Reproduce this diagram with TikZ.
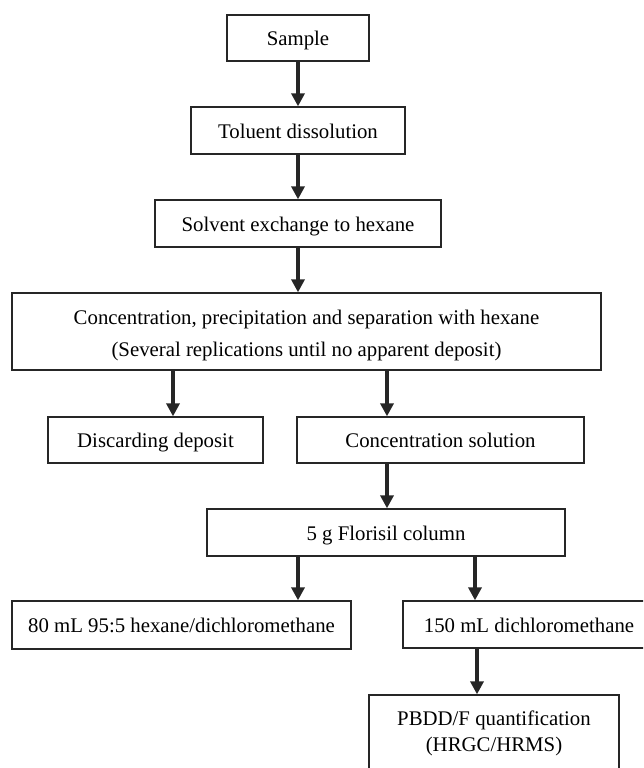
\documentclass[tikz,border=0pt]{standalone}
\usepackage{fontspec}
\setmainfont{Liberation Serif}
\usetikzlibrary{arrows.meta}
\begin{document}
\begin{tikzpicture}[x=1pt,y=-1pt,
  box/.style={draw=black!85, line width=1.3pt, inner sep=0pt, align=center,
    font=\fontsize{20.8}{32}\selectfont, text=black},
  one/.style={box, text height=15pt, text depth=0pt},
  arr/.style={draw=black!85, line width=3.3pt, -{Triangle[width=13pt,length=13pt]}}]
\useasboundingbox (0,0) rectangle (643,768);
\clip (0,0) rectangle (643,768);
\node[one, minimum width=142pt, minimum height=46pt] (sample) at (298,38) {Sample};
\node[one, minimum width=214pt, minimum height=47pt] (toluent) at (298,130.5) {Toluent dissolution};
\node[one, minimum width=286pt, minimum height=47pt] (solvent) at (298,223.5) {Solvent exchange to hexane};
\node[box, minimum width=589pt, minimum height=77pt, text height=49pt, text depth=0pt] (conc) at (306.5,331.5)
  {Concentration, precipitation and separation with hexane\\(Several replications until no apparent deposit)};
\node[one, minimum width=215pt, minimum height=46pt] (discard) at (155.5,440) {Discarding deposit};
\node[one, minimum width=287pt, minimum height=46pt] (concsol) at (440.5,440) {Concentration solution};
\node[one, minimum width=358pt, minimum height=47pt] (florisil) at (386,532.5) {5 g Florisil column};
\node[one, minimum width=339pt, minimum height=48pt] (hex) at (181.5,625) {80 mL 95:5 hexane/dichloromethane};
\node[one, minimum width=252pt, minimum height=47pt] (dcm) at (529,624.5) {150 mL dichloromethane};
\node[box, minimum width=250pt, minimum height=80pt, text height=32pt, text depth=0pt] (pbdd) at (494,735)
  {PBDD/F quantification\\[-6pt](HRGC/HRMS)};
\draw[arr] (sample.south) -- (toluent.north);
\draw[arr] (toluent.south) -- (solvent.north);
\draw[arr] (solvent.south) -- (solvent.south |- conc.north);
\draw[arr] (conc.south -| 173,0) -- (discard.north -| 173,0);
\draw[arr] (conc.south -| 387,0) -- (concsol.north -| 387,0);
\draw[arr] (concsol.south -| 387,0) -- (florisil.north -| 387,0);
\draw[arr] (florisil.south -| 298,0) -- (hex.north -| 298,0);
\draw[arr] (florisil.south -| 475,0) -- (dcm.north -| 475,0);
\draw[arr] (dcm.south -| 477,0) -- (pbdd.north -| 477,0);
\end{tikzpicture}
\end{document}
